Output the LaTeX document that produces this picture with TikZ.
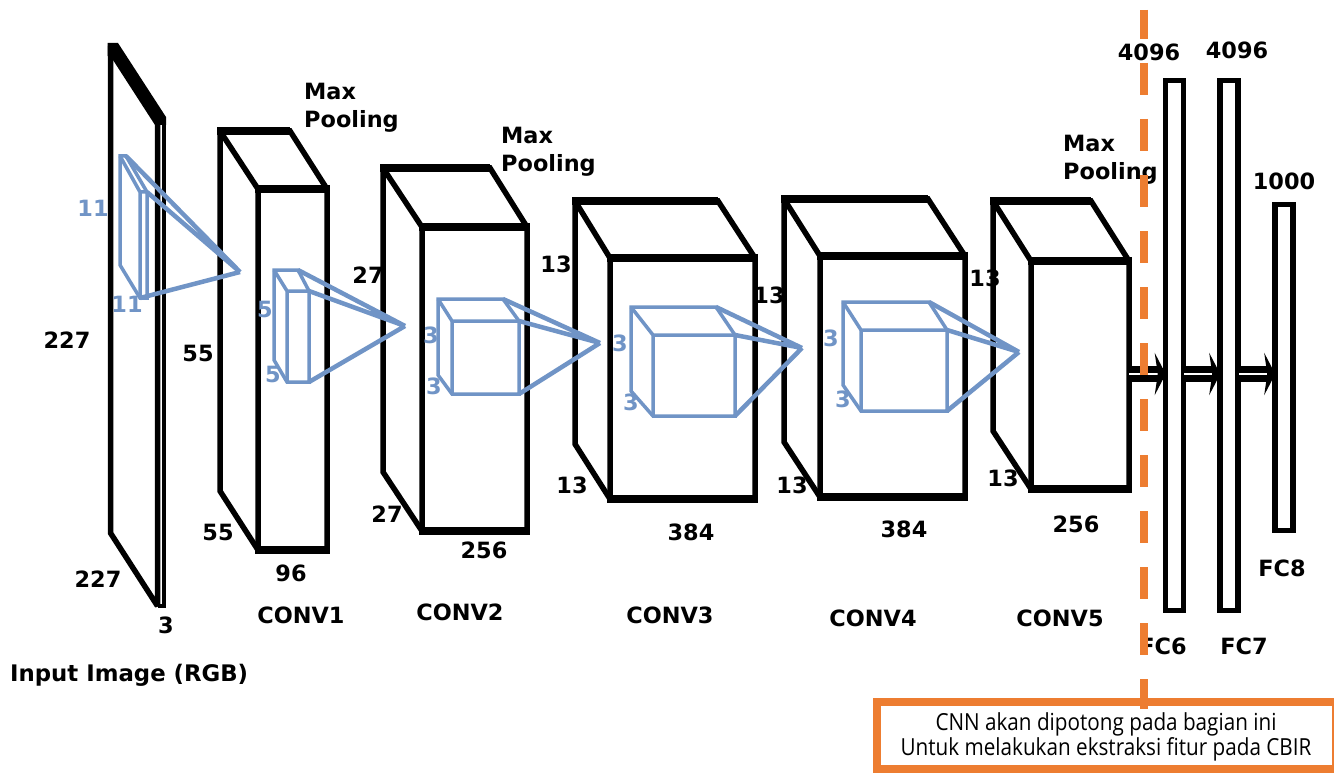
\documentclass[tikz,border=0pt]{standalone}
\usepackage{fontspec}
\setmainfont{DejaVu Sans}
\newfontfamily\notefont[FakeStretch=0.88]{Open Sans}
\usetikzlibrary{arrows.meta}
\definecolor{kernel}{HTML}{7094C6}
\definecolor{cutcol}{HTML}{ED7D31}
\tikzset{
  x=1pt,y=-1pt,
  lbl/.style={font=\fontsize{22.4}{28}\selectfont\bfseries,text=black,inner sep=0pt,align=left},
  bluelbl/.style={font=\fontsize{22.4}{26}\selectfont\bfseries,text=kernel,inner sep=0pt},
  vol/.style={draw=black,line width=5.5pt,line join=miter,fill=white},
  volh/.style={draw=black,line width=7.5pt,line cap=butt},
  kvol/.style={draw=kernel,line width=3.5pt,line join=miter},
  ray/.style={draw=kernel,line width=4.5pt},
  flow/.style={draw=black,line width=7pt,double=white,double distance=1.6pt,shorten >=-3pt,-{Stealth[length=11pt,width=42pt,inset=3pt,fill=black]}},
  fcbar/.style={draw=black,line width=5.5pt,fill=white,inner sep=0pt,minimum width=18pt},
}
\newcommand{\cuboid}[9]{%
  \coordinate (#1-a) at (#2,#4);
  \coordinate (#1-b) at (#3,#4);
  \coordinate (#1-c) at (#6,#7);
  \coordinate (#1-d) at (#5,#7);
  \coordinate (#1-e) at (#5,#8);
  \coordinate (#1-f) at (#6,#8);
  \coordinate (#1-g) at (#2,#9);
}
\newcommand{\drawcuboid}[1]{%
  \path[vol] (#1-a) -- (#1-b) -- (#1-c) -- (#1-f) -- (#1-e) -- (#1-g) -- cycle;
  \draw[vol,fill=none] (#1-a) -- (#1-d) -- (#1-c) (#1-d) -- (#1-e);
  \draw[volh] ([xshift=-2.7pt]#1-a) -- (#1-b) ([xshift=-2.7pt]#1-d) -- ([xshift=2.7pt]#1-c) ([xshift=-2.7pt]#1-e) -- ([xshift=2.7pt]#1-f);
}
\newcommand{\drawwire}[2]{%
  \draw[#2] (#1-a) -- (#1-b) -- (#1-c) -- (#1-f) -- (#1-e) -- (#1-g) -- cycle;
  \draw[#2] (#1-a) -- (#1-d) -- (#1-c) (#1-d) -- (#1-e);
}
\begin{document}
\begin{tikzpicture}
\useasboundingbox (0,0) rectangle (1334,773);
\fill[white] (0,0) rectangle (1334,773);

% input slab
\coordinate (ia) at (110.5,46);
\coordinate (id) at (157.5,122);
\coordinate (ic) at (164,122);
\coordinate (ie) at (157.5,606);
\coordinate (if) at (164,606);
\coordinate (ig) at (110.5,533);
\draw[line width=5.5pt,line join=miter,miter limit=2,fill=white] (ia) -- (id) -- (ie) -- (ig) -- cycle;
\draw[line width=4.5pt,line join=miter] (id) -- (ic) -- (if) -- (ie);
\fill[black] (107.7,43) -- (118,43) -- (166,117) -- (166,125) -- (155,125) -- (113,60) -- (107.7,56) -- cycle;

% conv volumes
\cuboid{c1}{220}{290}{131}{258}{327}{189}{550}{491}
\cuboid{c2}{383}{490}{168}{422}{527}{227}{531}{472}
\cuboid{c3}{575}{718}{201}{610}{755}{258}{499}{444}
\cuboid{c4}{784}{928}{199}{820}{965}{256}{497}{442}
\cuboid{c5}{993}{1091}{201}{1031}{1129}{261}{489}{431}
\drawcuboid{c1}
\drawcuboid{c2}
\drawcuboid{c3}
\drawcuboid{c4}
\drawcuboid{c5}

% fully connected bars
\node[fcbar,minimum height=530pt] (fc6) at (1174.5,345.5) {};
\node[fcbar,minimum height=530pt] (fc7) at (1229,345.5) {};
\node[fcbar,minimum height=326pt] (fc8) at (1284,367.5) {};

% flow arrows
\coordinate (c5out) at (1129,374);
\draw[flow] (c5out) -- (c5out -| fc6.west);
\coordinate (f6out) at (1184,374);
\draw[flow] (f6out) -- (f6out -| fc7.west);
\coordinate (f7out) at (1239,374);
\draw[flow] (f7out) -- (f7out -| fc8.west);

% kernels
\cuboid{k0}{120}{126}{156}{140}{147}{192}{298}{265}
\cuboid{k1}{274}{298}{270}{287}{309}{291}{382}{360}
\cuboid{k2}{438}{503}{299}{452}{519}{321}{394}{375}
\cuboid{k3}{631}{716}{307}{653}{735}{335}{416}{391}
\cuboid{k4}{843}{929}{302}{861}{947}{330}{411}{385}
\drawwire{k0}{kvol}
\drawwire{k1}{kvol}
\drawwire{k2}{kvol}
\drawwire{k3}{kvol}
\drawwire{k4}{kvol}
\coordinate (p0) at (240,272);
\coordinate (p1) at (405,326);
\coordinate (p2) at (600,343);
\coordinate (p3) at (802,348);
\coordinate (p4) at (1019,352);
\draw[ray] (k0-b) -- (p0) (k0-c) -- (p0) (k0-e) -- (p0);
\draw[ray] (k1-b) -- (p1) (k1-c) -- (p1) (k1-f) -- (p1);
\draw[ray] (k2-b) -- (p2) (k2-c) -- (p2) (k2-f) -- (p2);
\draw[ray] (k3-b) -- (p3) (k3-c) -- (p3) (k3-f) -- (p3);
\draw[ray] (k4-b) -- (p4) (k4-c) -- (p4) (k4-f) -- (p4);

% black labels
\node[lbl] (n227a) at (67,340) {227};
\node[lbl] (n227b) at (98,579) {227};
\node[lbl] (n3) at (166,625) {3};
\node[lbl] (n55a) at (198,353) {55};
\node[lbl] (n55b) at (218,532) {55};
\node[lbl] (n96) at (291,573) {96};
\node[lbl] (n27a) at (368,275) {27};
\node[lbl] (n27b) at (387,514) {27};
\node[lbl] (n256a) at (484,550) {256};
\node[lbl] (n13a) at (556,264) {13};
\node[lbl] (n13b) at (572,485) {13};
\node[lbl] (n384a) at (691,532) {384};
\node[lbl] (n13c) at (769,295) {13};
\node[lbl] (n13d) at (792,485) {13};
\node[lbl] (n384b) at (904,529) {384};
\node[lbl] (n13e) at (985,278) {13};
\node[lbl] (n13f) at (1003,478) {13};
\node[lbl] (n256b) at (1076,524) {256};
\node[lbl] (n4096a) at (1149,52) {4096};
\node[lbl] (n4096b) at (1237,50) {4096};
\node[lbl] (n1000) at (1284,181) {1000};
\node[lbl,anchor=north west] (mp1) at (304,83) {Max\\Pooling};
\node[lbl,anchor=north west] (mp2) at (501,127) {Max\\Pooling};
\node[lbl,anchor=north west] (mp3) at (1063,135) {Max\\Pooling};
\node[lbl] (l1) at (301,615) {CONV1};
\node[lbl] (l2) at (460,612) {CONV2};
\node[lbl] (l3) at (670,615) {CONV3};
\node[lbl] (l4) at (873,618) {CONV4};
\node[lbl] (l5) at (1060,618) {CONV5};
\node[lbl] (l6) at (1163,646) {FC6};
\node[lbl] (l7) at (1244,646) {FC7};
\node[lbl] (l8) at (1282,568) {FC8};
\node[lbl,anchor=west,font=\fontsize{22.8}{28}\selectfont\bfseries] (input) at (10,675) {Input Image (RGB)};

% blue labels
\node[bluelbl] (b11a) at (93,208) {11};
\node[bluelbl] (b11b) at (127,304) {11};
\node[bluelbl] (b5a) at (265,309) {5};
\node[bluelbl] (b5b) at (273,374) {5};
\node[bluelbl] (b3a) at (431,335) {3};
\node[bluelbl] (b3b) at (434,386) {3};
\node[bluelbl] (b3c) at (620,343) {3};
\node[bluelbl] (b3d) at (631,402) {3};
\node[bluelbl] (b3e) at (831,338) {3};
\node[bluelbl] (b3f) at (843,399) {3};

% cut line and note
\coordinate (cuttop) at (1144,10);
\coordinate (cutbot) at (1144,709);
\draw[cutcol,line width=8pt,dash pattern=on 32pt off 24pt,dash phase=3pt] (cuttop) -- (cutbot);
\node[draw=cutcol,line width=8pt,fill=white,inner sep=0pt,minimum width=459pt,minimum height=67pt,anchor=north west] (note) at (873,698) {};
\draw[cutcol,line width=8pt] (cuttop |- note.north) -- (cutbot);
\node[font=\notefont\fontsize{23.5}{25.5}\selectfont,align=center,text=black,inner sep=0pt] (notetext) at (1106,737)
  {CNN akan dipotong pada bagian ini\\Untuk melakukan ekstraksi fitur pada CBIR};
\end{tikzpicture}
\end{document}
